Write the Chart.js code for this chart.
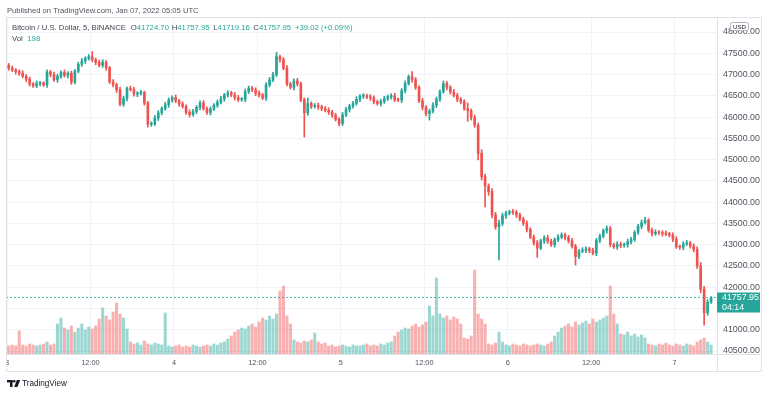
<!DOCTYPE html>
<html>
<head>
<meta charset="utf-8">
<script src="https://cdn.jsdelivr.net/npm/chart.js@4.4.1/dist/chart.umd.min.js"></script>
<style>
  html, body { margin: 0; padding: 0; background: #fff; }
  canvas { display: block; }
</style>
</head>
<body>
<canvas id="chart" width="768" height="395"></canvas>
<script>
// BTC/USD, Binance - drawn as 30 min candles, Jan 3 00:00 -> Jan 7 05:05 UTC
const firstOpen = 47220;

const closes = [
  // Jan 3
  47150,47110,47070,47030,46960,46890,46780,46740,46790,46800,
  46760,47060,47000,46880,46960,47050,46980,47030,46820,47080,
  47240,47320,47380,47420,47350,47290,47220,47290,47160,46830,
  46760,46640,46300,46440,46670,46650,46540,46560,46580,46330,
  45830,45840,45980,46100,46200,46290,46400,46460,
  // Jan 4
  46380,46310,46250,46110,46060,46130,46230,46330,46200,46110,
  46190,46280,46350,46430,46520,46570,46520,46460,46410,46420,
  46600,46680,46640,46560,46520,46450,46760,46870,47000,47420,
  47350,47150,46780,46700,46850,46780,46400,46100,46320,46250,
  46270,46240,46200,46160,46120,46040,45950,45850,
  // Jan 5
  46050,46180,46260,46320,46420,46490,46500,46470,46450,46360,
  46320,46370,46430,46480,46500,46410,46400,46620,46790,46950,
  46880,46700,46380,46230,46080,46140,46280,46420,46600,46790,
  46700,46590,46510,46420,46360,46200,46150,45990,45810,45150,
  44600,44380,44250,43700,43420,43500,43680,43740,
  // Jan 6
  43770,43760,43700,43600,43500,43360,43180,43040,42920,43090,
  43160,43080,43000,43120,43180,43230,43170,43090,42960,42720,
  42850,42870,42900,42860,42800,43100,43200,43330,43380,43000,
  42950,43010,42980,43000,43070,43120,43290,43430,43520,43570,
  43340,43260,43290,43280,43260,43250,43230,43130,
  // Jan 7
  42950,42940,43020,43040,42970,42890,42500,41950,41400,41650,41757.95
];

// how far high / low reach past the candle body
const wickUp = [
  40,50,30,40,60,40,50,30,60,40, 30,50,40,60,50,40,60,40,50,40,
  50,60,40,50,120,40,50,60,40,30, 50,40,60,50,40,60,50,40,50,30,
  40,50,60,50,40,60,50,40,60,40, 50,40,60,50,40,50,60,40,50,40,
  50,60,40,50,40,60,50,40,60,50, 40,50,60,40,50,60,50,100,40,50,
  60,40,50,60,40,50,130,40,50,60, 40,50,60,40,50,40,60,50,40,50,
  60,40,50,40,60,50,40,50,60,40, 50,60,40,50,60,40,120,50,40,60,
  40,50,60,50,40,60,50,40,60,50, 40,50,130,40,60,50,80,60,50,70,
  60,80,60,50,40,60,50,40,50,60, 40,50,60,40,50,60,50,40,60,50,
  40,50,60,50,40,60,50,40,60,50, 50,40,60,50,40,60,50,40,60,50,
  40,50,60,70,40,50,60,40,50,60, 40,50,60,40,50,60,40,50,60,80,
  70,60,20
];
const wickDn = [
  50,40,60,50,40,60,50,40,50,60, 40,60,50,40,60,50,40,60,50,40,
  40,50,60,40,50,60,40,50,60,40, 50,60,40,50,60,40,50,60,40,50,
  70,50,40,60,50,40,60,50,40,60, 40,50,60,40,50,60,40,50,60,40,
  50,40,60,50,40,60,50,40,60,50, 40,60,50,40,60,50,40,50,60,40,
  50,40,60,50,40,570,60,50,40,60, 50,40,60,50,40,60,50,40,60,50,
  40,60,50,40,60,50,40,60,50,40, 60,50,40,60,50,40,60,50,40,60,
  50,150,40,60,50,40,60,50,40,60, 50,40,250,60,50,160,80,490,90,70,
  60,780,50,60,40,50,60,40,50,60, 40,50,220,40,60,50,40,60,50,40,
  60,50,40,200,50,40,60,50,40,60, 50,40,60,50,40,60,50,40,60,50,
  40,50,60,40,50,60,40,50,60,40, 50,60,40,50,60,40,50,60,60,80,
  290,60,30
];

const volumes = [
  8,9,8,23,9,8,10,9,8,9,10,12,9,10,
  30,36,
  26,24,28,22,26,30,24,27,25,28,
  35,46,38,34,42,51,40,36,
  25,
  12,10,11,9,13,10,9,11,10,9,
  41,
  8,7,8,9,7,8,7,9,8,7,8,9,8,10,9,11,12,
  15,18,22,24,26,25,28,30,27,32,
  36,34,38,35,40,63,68,38,30,
  14,12,11,13,12,14,21,12,10,11,
  8,9,7,8,9,8,7,9,8,8,9,10,8,9,8,10,9,11,12,
  18,22,24,26,25,28,30,27,29,32,
  48,38,76,40,36,38,34,37,35,30,
  16,15,18,
  84,
  40,35,30,
  10,9,11,22,12,9,8,10,9,8,10,9,8,9,10,9,8,10,12,
  18,22,26,28,30,27,32,29,31,33,30,35,32,34,36,38,68,40,30,
  20,19,22,18,20,17,19,16,
  10,9,8,10,9,11,9,8,10,9,8,10,9,8,12,14,16,12,9
];

const timeTickHours = [0, 12, 24, 36, 48, 60, 72, 84, 96];
const timeTickLabels = ['3', '12:00', '4', '12:00', '5', '12:00', '6', '12:00', '7'];
const priceTicks = [40500, 41000, 41500, 42000, 42500, 43000, 43500, 44000,
                    44500, 45000, 45500, 46000, 46500, 47000, 47500, 48000];
const lastPrice = 41757.95;

const UP = '#26a69a';
const DOWN = '#ef5350';
const GRID = '#f0f3fa';
const FRAME = '#e0e3eb';
const TEXT = '#50535e';
const FONT = '"Liberation Sans", Arial, sans-serif';

const opens = closes.map((c, i) => i === 0 ? firstOpen : closes[i - 1]);
const hours = closes.map((c, i) => i * 0.5 + 0.25);
const isUp = closes.map((c, i) => c >= opens[i]);

const bodyData = closes.map((c, i) => ({ x: hours[i], y: [opens[i], c] }));
const wickData = closes.map((c, i) => ({
  x: hours[i],
  y: [Math.min(opens[i], c) - wickDn[i], Math.max(opens[i], c) + wickUp[i]]
}));
const volData = volumes.map((v, i) => ({ x: hours[i], y: v }));

// font sizes picked so texts span the same widths as in the screenshot
const mctx = document.createElement('canvas').getContext('2d');
function fitSize(text, width) {
  mctx.font = '20px ' + FONT;
  return 20 * width / mctx.measureText(text).width;
}
const priceFont = fitSize('44000.00', 37);
const timeFont = fitSize('12:00', 18.5);

const chrome = {
  id: 'chrome',
  beforeDraw(chart) {
    const c = chart.ctx;
    c.save();
    c.fillStyle = '#fff';
    c.fillRect(0, 0, chart.width, chart.height);
    c.restore();
  },
  afterDraw(chart) {
    const c = chart.ctx;
    const y = chart.scales.y;
    const py = Math.round(y.getPixelForValue(lastPrice)) + 0.5;
    c.save();

    // last price line
    c.strokeStyle = 'rgba(38,166,154,0.8)';
    c.lineWidth = 1;
    c.setLineDash([2, 2]);
    c.beginPath();
    c.moveTo(6, py);
    c.lineTo(717, py);
    c.stroke();
    c.setLineDash([]);

    // hide the part of the "3" label that falls left of the pane
    c.fillStyle = '#fff';
    c.fillRect(0, 355, 6, 16);

    // frame
    c.strokeStyle = FRAME;
    c.strokeRect(6.5, 17.5, 755, 354);
    c.beginPath();
    c.moveTo(717.5, 17); c.lineTo(717.5, 372);
    c.moveTo(6, 354.5); c.lineTo(762, 354.5);
    c.stroke();

    // price tag
    c.fillStyle = UP;
    c.fillRect(717, py - 5, 43, 20);
    c.fillStyle = '#fff';
    c.font = priceFont + 'px ' + FONT;
    c.textBaseline = 'middle';
    c.textAlign = 'left';
    c.fillText('41757.95', 722, py + 0.5);
    c.fillText('04:14', 722, py + 10);

    // USD tag
    c.fillStyle = '#fff';
    c.strokeStyle = '#b2b5be';
    c.beginPath();
    c.roundRect(730.5, 22.5, 18, 8, 2);
    c.fill();
    c.stroke();
    c.fillStyle = '#131722';
    c.font = fitSize('USD', 13) + 'px ' + FONT;
    c.textAlign = 'center';
    c.fillText('USD', 739.5, 27);

    // header
    c.textAlign = 'left';
    c.fillStyle = TEXT;
    const head = 'Published on TradingView.com, Jan 07, 2022 05:05 UTC';
    c.font = fitSize(head, 192) + 'px ' + FONT;
    c.fillText(head, 7, 10.5);

    // legend
    const title = 'Bitcoin / U.S. Dollar, 5, BINANCE';
    c.font = fitSize(title, 114) + 'px ' + FONT;
    c.fillStyle = '#434651';
    c.fillText(title, 12, 28);
    const ohlc = [['O', '41724.70', 130.7], ['H', '41757.95', 171.7], ['L', '41719.16', 213.3], ['C', '41757.95', 253.3]];
    ohlc.forEach(([k, v, x]) => {
      c.fillStyle = '#434651';
      c.fillText(k, x, 28);
      c.fillStyle = UP;
      c.fillText(v, x + c.measureText(k).width, 28);
    });
    c.fillText('+39.02 (+0.09%)', 295, 28);
    c.fillStyle = '#434651';
    c.fillText('Vol', 12, 39);
    c.fillStyle = UP;
    c.fillText('198', 27.3, 39);

    // TradingView logo
    c.fillStyle = '#131722';
    c.fillRect(7, 380, 5.5, 2.4);
    c.fillRect(10, 380, 2.5, 7);
    c.beginPath();
    c.arc(14.2, 381.3, 1.3, 0, Math.PI * 2);
    c.fill();
    c.beginPath();
    c.moveTo(16.8, 380); c.lineTo(20.2, 380); c.lineTo(17.4, 387); c.lineTo(14.2, 387);
    c.closePath();
    c.fill();
    const brand = 'TradingView';
    c.font = fitSize(brand, 45) + 'px ' + FONT;
    c.fillText(brand, 22, 383.5);

    c.restore();
  }
};

new Chart(document.getElementById('chart'), {
  type: 'bar',
  data: {
    datasets: [
      {
        data: volData,
        yAxisID: 'yv',
        backgroundColor: isUp.map(u => u ? 'rgba(38,166,154,0.45)' : 'rgba(239,83,80,0.45)'),
        barThickness: 2.4,
        grouped: false,
        order: 3
      },
      {
        data: wickData,
        yAxisID: 'y',
        backgroundColor: isUp.map(u => u ? UP : DOWN),
        barThickness: 1,
        grouped: false,
        order: 2
      },
      {
        data: bodyData,
        yAxisID: 'y',
        backgroundColor: isUp.map(u => u ? UP : DOWN),
        barThickness: 2,
        minBarLength: 1,
        grouped: false,
        order: 1
      }
    ]
  },
  options: {
    responsive: false,
    animation: false,
    layout: { padding: { left: 6, top: 17, right: 6, bottom: 23 } },
    plugins: { legend: { display: false }, tooltip: { enabled: false } },
    scales: {
      x: {
        type: 'linear',
        min: 0,
        max: 102.1,
        offset: false,
        grid: { offset: false, color: GRID, drawTicks: false },
        border: { display: false },
        afterBuildTicks: s => { s.ticks = timeTickHours.map(v => ({ value: v })); },
        ticks: {
          autoSkip: false,
          maxRotation: 0,
          padding: 5,
          color: TEXT,
          font: { family: FONT, size: timeFont },
          callback: (v, i) => timeTickLabels[i]
        },
        afterFit: s => { s.height = 18; }
      },
      y: {
        position: 'right',
        min: 40429.5,
        max: 48353,
        grid: { color: GRID, drawTicks: false },
        border: { display: false },
        afterBuildTicks: s => { s.ticks = priceTicks.map(v => ({ value: v })); },
        ticks: {
          autoSkip: false,
          padding: 6,
          color: TEXT,
          font: { family: FONT, size: priceFont },
          callback: v => v.toFixed(2)
        },
        afterFit: s => { s.width = 45; }
      },
      yv: { display: false, min: 0, max: 337 }
    }
  },
  plugins: [chrome]
});
</script>
</body>
</html>
